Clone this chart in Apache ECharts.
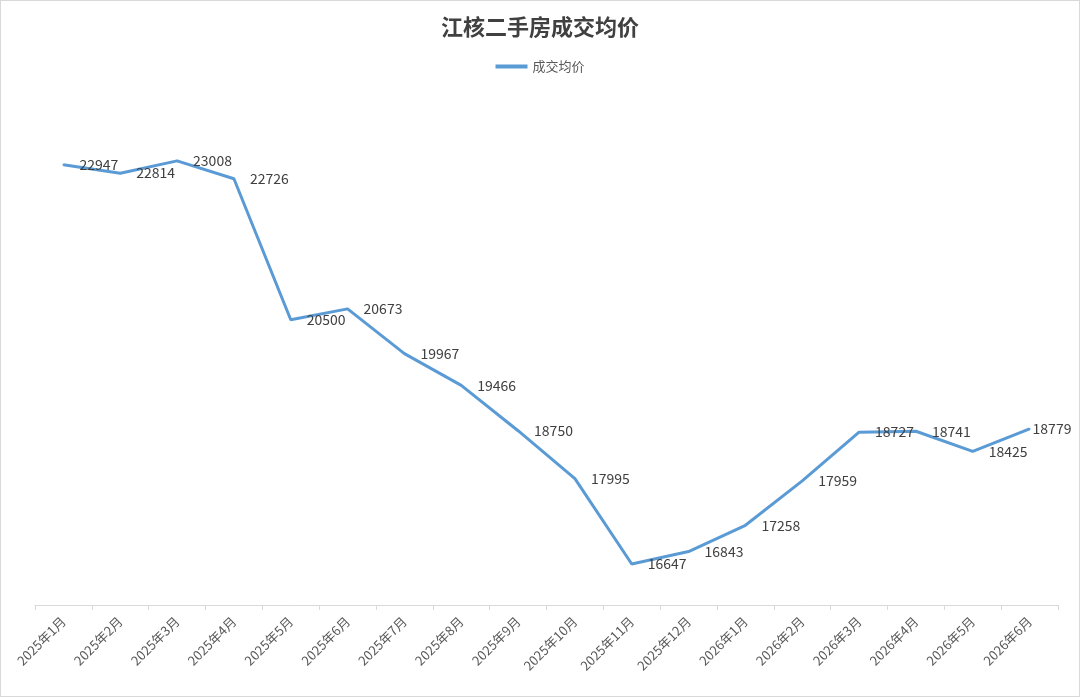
<!DOCTYPE html>
<html>
<head>
<meta charset="utf-8">
<script src="https://cdn.jsdelivr.net/npm/echarts@6/dist/echarts.min.js"></script>
<style>
  html, body { margin: 0; padding: 0; background: #fff; }
  #chart {
    width: 1078px;
    height: 695px;
    border: 1px solid #d9d9d9;
  }
</style>
</head>
<body>
<div id="chart"></div>
<script>
  // 月份
  var months = ['2025年1月', '2025年2月', '2025年3月', '2025年4月', '2025年5月', '2025年6月',
    '2025年7月', '2025年8月', '2025年9月', '2025年10月', '2025年11月', '2025年12月',
    '2026年1月', '2026年2月', '2026年3月', '2026年4月', '2026年5月', '2026年6月'];
  // 成交均价
  var avgPrice = [22947, 22814, 23008, 22726, 20500, 20673, 19967, 19466, 18750, 17995,
    16647, 16843, 17258, 17959, 18727, 18741, 18425, 18779];

  var myChart = echarts.init(document.getElementById('chart'));
  var font = '"Noto Sans CJK SC", "Noto Sans", sans-serif';

  // 最后一个标签靠近线端，避免超出画布
  var seriesData = avgPrice.map(function (v, i) {
    if (i === avgPrice.length - 1) {
      return { value: v, label: { distance: 2 } };
    }
    return v;
  });

  var option = {
    animation: false,
    title: {
      text: '江核二手房成交均价',
      left: 'center',
      top: 10,
      textStyle: { fontFamily: font, fontSize: 22, fontWeight: 'bold', color: '#404040' }
    },
    legend: {
      top: 54,
      left: 'center',
      itemWidth: 32,
      itemHeight: 4,
      icon: 'rect',
      itemGap: 6,
      textStyle: { fontFamily: font, fontSize: 13, color: '#595959' },
      data: ['成交均价']
    },
    grid: { left: 34, right: 21, top: 97, bottom: 91 },
    xAxis: {
      type: 'category',
      data: months,
      boundaryGap: true,
      axisLine: { lineStyle: { color: '#d9d9d9', width: 1 } },
      axisTick: { show: true, length: 5, lineStyle: { color: '#d9d9d9' } },
      axisLabel: { rotate: 45, fontFamily: font, fontSize: 13, color: '#595959', margin: 14, interval: 0 }
    },
    yAxis: {
      type: 'value',
      min: 16000,
      max: 24000,
      show: false,
      splitLine: { show: false }
    },
    series: [{
      name: '成交均价',
      type: 'line',
      data: seriesData,
      symbol: 'circle',
      symbolSize: 2,
      showSymbol: true,
      lineStyle: { color: '#5b9bd5', width: 3 },
      itemStyle: { color: '#5b9bd5' },
      label: {
        show: true,
        position: 'right',
        distance: 15,
        fontFamily: font,
        fontSize: 14,
        color: '#404040'
      }
    }]
  };
  myChart.setOption(option);
</script>
</body>
</html>
